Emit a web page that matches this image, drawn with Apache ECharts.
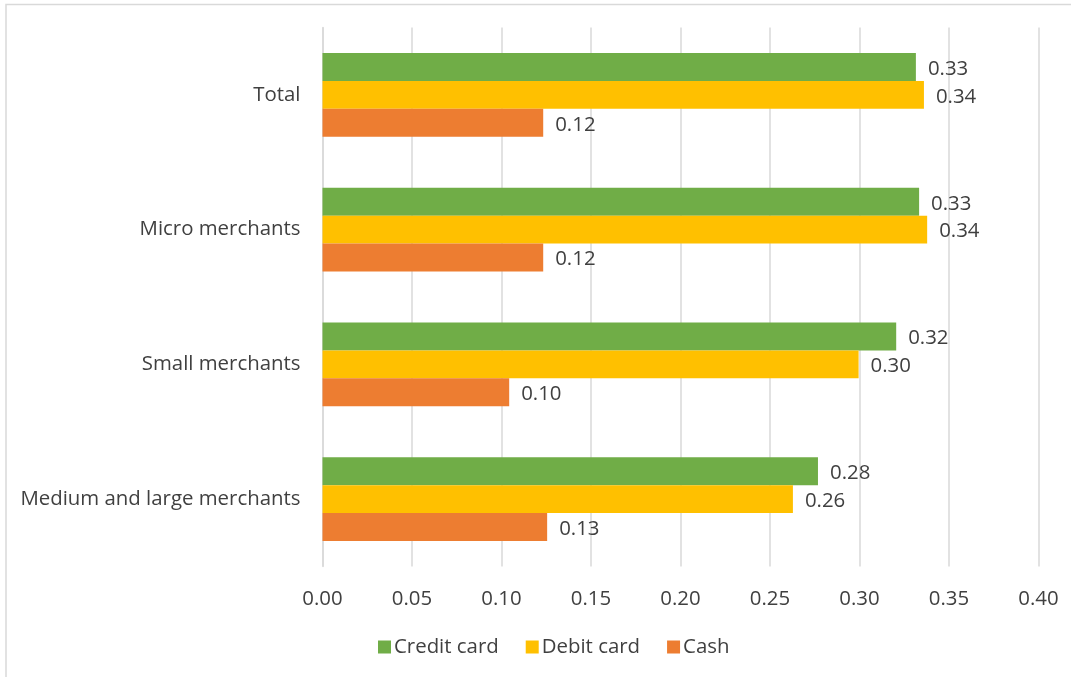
<!DOCTYPE html>
<html>
<head>
<meta charset="utf-8">
<script src="https://cdn.jsdelivr.net/npm/echarts@6/dist/echarts.min.js"></script>
<style>
html,body{margin:0;padding:0;background:#fff;}
#chart{width:1071px;height:677px;}
</style>
</head>
<body>
<div id="chart"></div>
<script>
const categories = ["Total", "Micro merchants", "Small merchants", "Medium and large merchants"];
const seriesNames = ["Credit card", "Debit card", "Cash"];
const creditCard = [0.3315, 0.3333, 0.3205, 0.2768];
const debitCard = [0.3360, 0.3378, 0.2995, 0.2628];
const cash = [0.1233, 0.1233, 0.1043, 0.1255];
const xTicks = [0, 0.05, 0.10, 0.15, 0.20, 0.25, 0.30, 0.35, 0.40];
const colors = ["#70AD47", "#FFC000", "#ED7D31"];

const FONT = "Open Sans";
const FS = 20.4;
const TXT = "#404040";
const chart = echarts.init(document.getElementById('chart'), null, {renderer: 'canvas'});
const values = [creditCard, debitCard, cash];

chart.setOption({
  animation: false,
  backgroundColor: '#fff',
  textStyle: {fontFamily: FONT},
  graphic: [{
    type: 'rect',
    shape: {x: 6, y: 4.5, width: 1300, height: 1000},
    style: {fill: 'none', stroke: '#d9d9d9', lineWidth: 1.5},
    silent: true
  }],
  grid: {left: 322.5, right: 32.5, top: 27.5, height: 539, containLabel: false},
  legend: {
    left: 373, top: 632,
    itemWidth: 13, itemHeight: 13, itemGap: 27,
    icon: 'rect',
    textStyle: {fontFamily: FONT, fontSize: FS, color: TXT, padding: [0, 0, 0, -2]},
    data: seriesNames
  },
  xAxis: {
    type: 'value',
    min: xTicks[0], max: xTicks[xTicks.length - 1], interval: 0.05,
    axisLine: {show: false},
    axisTick: {show: false},
    splitLine: {show: true, lineStyle: {color: '#d9d9d9', width: 1.5}},
    axisLabel: {
      fontFamily: FONT, fontSize: FS, color: TXT, margin: 23,
      formatter: v => v.toFixed(2)
    }
  },
  yAxis: {
    type: 'category',
    inverse: true,
    data: categories,
    axisLine: {show: true, lineStyle: {color: '#d9d9d9', width: 1.5}},
    axisTick: {show: false},
    axisLabel: {fontFamily: FONT, fontSize: FS, color: TXT, margin: 22, padding: [3, 0, 0, 0]}
  },
  series: seriesNames.map((name, i) => ({
    name: name,
    type: 'bar',
    data: values[i],
    barGap: '0%',
    barCategoryGap: '38%',
    itemStyle: {color: colors[i]},
    label: {
      show: true, position: 'right', distance: 12, offset: [0, 2],
      fontFamily: FONT, fontSize: FS, color: TXT,
      formatter: p => p.value.toFixed(2)
    }
  }))
});
</script>
</body>
</html>
